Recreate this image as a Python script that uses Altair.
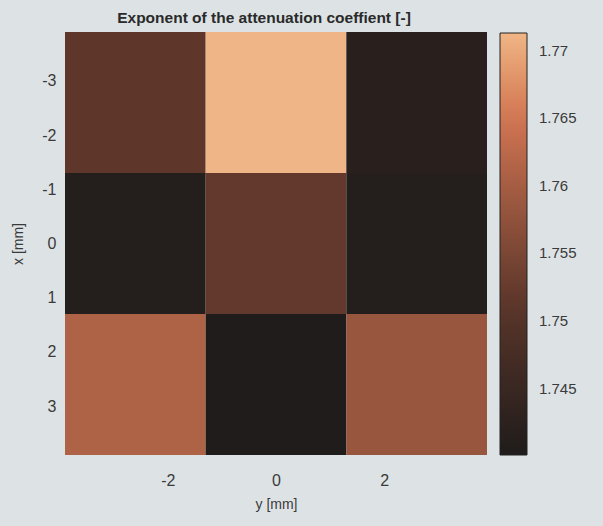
import altair as alt
import pandas as pd

# cell centres (mm) and values
x_pos = [-2.6, 0.0, 2.6]          # rows (x [mm], vertical axis)
y_pos = [-2.6, 0.0, 2.6]          # columns (y [mm], horizontal axis)
values = [
    [1.7515, 1.7713, 1.7420],
    [1.7410, 1.7520, 1.7410],
    [1.7610, 1.7401, 1.7585],
]
half = 1.3
x_ticks = [-3, -2, -1, 0, 1, 2, 3]
y_ticks = [-2, 0, 2]
cbar_ticks = [1.745, 1.75, 1.755, 1.76, 1.765, 1.77]
vmin, vmax = 1.7401, 1.7713

rows = []
for i, xv in enumerate(x_pos):
    for j, yv in enumerate(y_pos):
        rows.append({"xr0": xv - half, "xr1": xv + half,
                     "yc0": yv - half, "yc1": yv + half,
                     "v": values[i][j]})
df = pd.DataFrame(rows)

span = vmax - vmin
dom = [vmin, vmin + 0.35 * span, vmin + 0.8 * span, vmax]
rng = ["#1f1c1b", "#5a3529", "#d27552", "#f0b586"]

axis_common = dict(grid=False, domain=False, ticks=False, labelFontSize=16,
                   labelColor="#3a3a3a", titleFontSize=14, titleFontWeight="normal",
                   titleColor="#3a3a3a",
                   labelFont="Liberation Sans", titleFont="Liberation Sans",
                   labelExpr="'' + datum.value")

chart = alt.Chart(df).mark_rect(strokeWidth=0).encode(
    x=alt.X("yc0:Q", scale=alt.Scale(domain=[-3.9, 3.9], nice=False, zero=False),
            axis=alt.Axis(title="y [mm]", values=y_ticks, labelPadding=17,
                          titlePadding=9, **axis_common)),
    x2="yc1:Q",
    y=alt.Y("xr0:Q", scale=alt.Scale(domain=[-3.9, 3.9], nice=False, zero=False, reverse=True),
            axis=alt.Axis(title="x [mm]", values=x_ticks, labelPadding=9,
                          titlePadding=16, **axis_common)),
    y2="xr1:Q",
    color=alt.Color("v:Q", scale=alt.Scale(domain=dom, range=rng, clamp=True),
                    legend=alt.Legend(title=None, orient="none", legendX=435, legendY=1,
                                      gradientLength=422, gradientThickness=27,
                                      values=cbar_ticks, format="~g",
                                      labelFontSize=15, labelColor="#3a3a3a",
                                      labelFont="Liberation Sans", labelOffset=12,
                                      gradientStrokeColor="#222", gradientStrokeWidth=1,
                                      direction="vertical")),
).properties(
    width=422, height=423,
    title=alt.Title("Exponent of the attenuation coeffient [-]", fontSize=15.5,
                    fontWeight="bold", color="#2a2a2a", font="Liberation Sans",
                    anchor="middle", offset=6, dx=-12),
    padding={"left": 65, "top": 32, "right": 116, "bottom": 71},
    autosize=alt.AutoSizeParams(type="none"),
    background="#dde3e5",
).configure_view(stroke=None)

chart.save("out.html", embed_options={"renderer": "svg", "actions": False})
